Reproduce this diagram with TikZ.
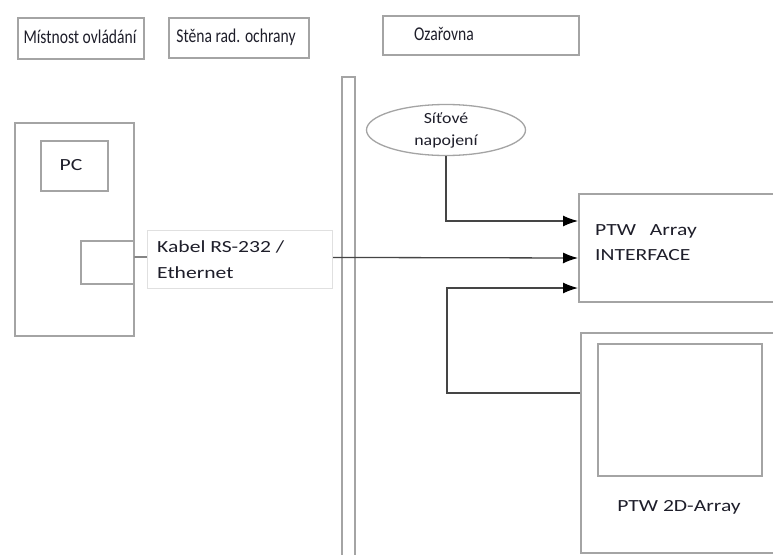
\documentclass[tikz,border=0pt]{standalone}
\usepackage{fontspec}
\setmainfont{Carlito}
\usetikzlibrary{shapes.geometric,arrows.meta}
\definecolor{boxgray}{HTML}{A4A4A4}
\definecolor{linegray}{HTML}{454545}
\definecolor{txt}{HTML}{1E1E2A}
\newcommand{\mkhead}[1]{\scalebox{0.8}[1]{#1}}
\newcommand{\mkbody}[1]{\scalebox{1.27}[1]{#1}}
\newcommand{\mkell}[1]{\scalebox{1.15}[1]{#1}}
\tikzset{
  box/.style={draw=boxgray, line width=1.5pt, fill=white, rectangle, anchor=north west, inner sep=0pt},
  hlbl/.style={text=txt, font=\fontsize{19.5}{22}\selectfont, inner sep=0pt},
  lbl/.style={text=txt, font=\fontsize{17}{22}\selectfont, inner sep=0pt},
  conn/.style={draw=linegray, line width=1.3pt},
  arr/.style={conn, -{Latex[length=15pt,width=11pt,color=black]}},
}
\begin{document}
\begin{tikzpicture}[x=1pt,y=-1pt]
\clip (0,0) rectangle (773,554);
\fill[white] (0,0) rectangle (773,554);

% header boxes
\node[box, minimum width=126, minimum height=41] (h1) at (17,17) {};
\node[hlbl] (h1t) at (80,37) {\mkhead{Místnost ovládání}};
\node[box, minimum width=140, minimum height=40] (h2) at (168,17) {};
\node[hlbl] (h2t) at (236,37) {\mkhead{Stěna rad. ochrany}};
\node[box, minimum width=196, minimum height=39] (h3) at (382,15) {};
\node[hlbl] (h3t) at (444,34) {\mkhead{Ozařovna}};

% wall
\draw[draw=boxgray, line width=1.5pt] (342,560) -- (342,77) -- (355,77) -- (355,560);

% control room
\node[box, minimum width=119, minimum height=213] (room) at (14,122) {};
\node[box, minimum width=67, minimum height=50] (pc) at (40,140) {};
\node[lbl] (pct) at (71,165) {\mkbody{PC}};
\node[box, minimum width=53, minimum height=43] (port) at (80,240) {};

% cable
\draw[arr] (port.east |- 0,257) -- (578,258) coordinate (a2);
\node[draw=black!12, line width=0.8pt, fill=white, anchor=north west, minimum width=185, minimum height=58, inner sep=0pt] (kab) at (147,230) {};
\node[lbl, anchor=west] (kab1) at (157,247) {\mkbody{Kabel RS-232 /}};
\node[lbl, anchor=west] (kab2) at (157,273) {\mkbody{Ethernet}};

% interface
\node[box, minimum width=220, minimum height=108] (iface) at (578,193) {};
\node[lbl, anchor=west] (if1) at (595,231) {\mkbody{PTW\hspace{11pt}Array}};
\node[lbl, anchor=west] (if2) at (595,255) {\mkbody{INTERFACE}};

% network ellipse
\node[ellipse, draw=boxgray, line width=1.3pt, fill=white, minimum width=159, minimum height=51, inner sep=0pt, text=txt,
      font=\fontsize{15.5}{22}\selectfont, align=center] (sit) at (446,130) {\mkell{Síťové}\\\mkell{napojení}};
\draw[arr] (sit.south) |- (iface.west |- 0,221);

% 2D array
\node[box, minimum width=220, minimum height=220] (arr2d) at (580,332) {};
\node[box, minimum width=164, minimum height=132] (inner) at (597,343) {};
\node[lbl] (arrt) at (679,507) {\mkbody{PTW 2D-Array}};
\draw[arr] (arr2d.west |- 0,393) -| (447,288) -- (iface.west |- 0,288);
\end{tikzpicture}
\end{document}
